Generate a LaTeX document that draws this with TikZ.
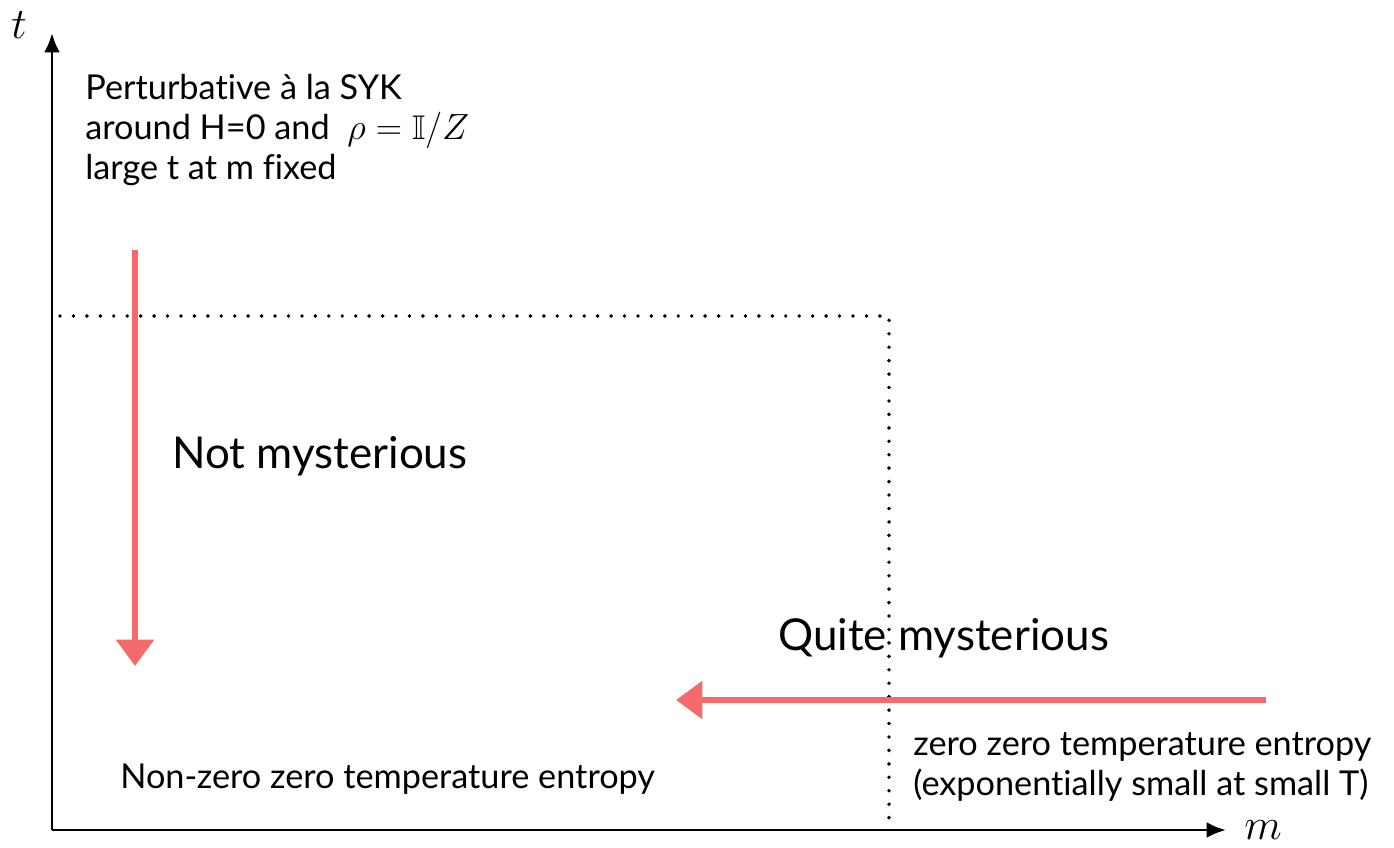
\documentclass[tikz,border=0pt]{standalone}
\usepackage{amssymb}
\usepackage{fontspec}
\setmainfont{Lato}[Ligatures=NoCommon]
\usetikzlibrary{arrows.meta}
\definecolor{redarrow}{HTML}{F56A6A}
\tikzset{
  axis/.style={line width=1.6pt,-{Latex[length=11pt,width=9pt]}},
  dotline/.style={line width=2.2pt,line cap=round,dash pattern=on 0pt off 7.65pt},
  redarr/.style={redarrow,line width=3.6pt,-{Triangle[length=15pt,width=21pt]}},
  txt/.style={anchor=base west,inner sep=0pt,font=\fontsize{19.5}{22}\selectfont},
  big/.style={anchor=base west,inner sep=0pt,font=\fontsize{25}{28}\selectfont},
}
\begin{document}
\begin{tikzpicture}[x=0.02cm,y=-0.02cm]
\useasboundingbox (0,0) rectangle (1394,848);
% axes
\coordinate (O) at (52,830);
\coordinate (T) at (52,33);
\coordinate (M) at (1226,830);
\draw[axis] (O) -- (T);
\draw[axis] (O) -- (M);
\node (tl) at (19,25) {\fontsize{24}{26}\selectfont$t$};
\node (ml) at (1263,830) {\fontsize{24}{26}\selectfont$m$};
% dotted boundary
\coordinate (d1) at (60,316);
\coordinate (d2) at (889,316);
\coordinate (d3) at (889,828);
\draw[dotline] (d1) -- (d2) -- (d3);
% red arrows
\coordinate (r1s) at (135,250);
\coordinate (r1e) at (135,666);
\draw[redarr] (r1s) -- (r1e);
\coordinate (r2s) at (1266,700);
\coordinate (r2e) at (676,700);
\draw[redarr] (r2s) -- (r2e);
% texts
\node[txt] (p1) at (85,100) {Perturbative à la SYK};
\node[txt] (p2) at (85,140) {around H=0 and\ \ $\rho=\mathbb{I}/Z$};
\node[txt] (p3) at (85,180) {large t at m fixed};
\node[big] (nm) at (172,468) {Not mysterious};
\node[big] (qm) at (778,650) {Quite mysterious};
\node[txt] (z1) at (913,755) {zero zero temperature entropy};
\node[txt] (z2) at (913,795) {(exponentially small at small T)};
\node[txt] (nz) at (120,788) {Non-zero zero temperature entropy};
\end{tikzpicture}
\end{document}
